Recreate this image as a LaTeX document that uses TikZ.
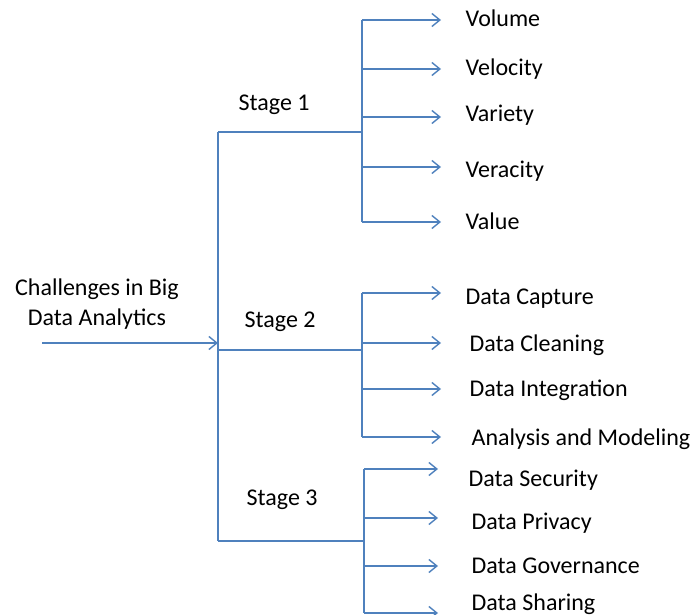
\documentclass[tikz,border=0pt]{standalone}
\usepackage{fontspec}
\setmainfont{Carlito}
\usepackage{tikz}
\usetikzlibrary{arrows.meta}
\definecolor{linkblue}{RGB}{79,129,189}

\begin{document}
\begin{tikzpicture}[x=0.5pt,y=-0.5pt,draw=linkblue,line width=0.7pt,font=\fontsize{12}{15}\selectfont]
	\tikzstyle{every node}=[text=black,inner sep=0pt,anchor=base west]
	\tikzstyle{tip}=[-{Straight Barb[length=4pt,width=6.5pt,line width=0.7pt]}]
	\useasboundingbox (0,0) rectangle (697,615);

	% root, trunk and stage branches
	\node (root)[align=center,anchor=center] at (97,304) {Challenges in Big\\Data Analytics};
	\coordinate (start) at (42,343);
	\coordinate (hub) at (218,343);
	\coordinate (S1) at (218,132);	\coordinate (S1R) at (362,132);
	\coordinate (S2) at (218,350);	\coordinate (S2R) at (362,350);
	\coordinate (S3) at (218,541);	\coordinate (S3R) at (364,541);
	\node (stage1) at (238,111) {Stage 1};
	\node (stage2) at (244,328) {Stage 2};
	\node (stage3) at (246,505) {Stage 3};

	% stage 1 leaves
	\node (vol) at (465,27) {Volume};
	\node (vel) at (465,76) {Velocity};
	\node (var) at (465,122) {Variety};
	\node (ver) at (465,178) {Veracity};
	\node (val) at (465,229) {Value};
	\coordinate (J1_1) at (362,20);		\coordinate (T1_1) at (441,20);
	\coordinate (J1_2) at (362,69);		\coordinate (T1_2) at (441,69);
	\coordinate (J1_3) at (362,117);	\coordinate (T1_3) at (441,117);
	\coordinate (J1_4) at (362,167);	\coordinate (T1_4) at (441,167);
	\coordinate (J1_5) at (362,222);	\coordinate (T1_5) at (441,222);

	% stage 2 leaves
	\node (cap) at (465,304) {Data Capture};
	\node (cln) at (469,351) {Data Cleaning};
	\node (int) at (469,396) {Data Integration};
	\node (mod) at (471,445) {Analysis and Modeling};
	\coordinate (J2_1) at (362,293);	\coordinate (T2_1) at (441,293);
	\coordinate (J2_2) at (362,343);	\coordinate (T2_2) at (441,343);
	\coordinate (J2_3) at (362,389);	\coordinate (T2_3) at (441,389);
	\coordinate (J2_4) at (362,437);	\coordinate (T2_4) at (441,437);

	% stage 3 leaves
	\node (sec) at (468,486) {Data Security};
	\node (prv) at (471,529) {Data  Privacy};
	\node (gov) at (471,573) {Data  Governance};
	\node (shr) at (471,610) {Data  Sharing};
	\coordinate (J3_1) at (364,469);	\coordinate (T3_1) at (438,469);
	\coordinate (J3_2) at (364,518);	\coordinate (T3_2) at (438,518);
	\coordinate (J3_3) at (364,566);	\coordinate (T3_3) at (438,566);
	\coordinate (J3_4) at (364,613);	\coordinate (T3_4) at (438,613);

	\draw[tip] (start) -- (hub);
	\draw (S1) -- (S3);
	\draw (S1) -- (S1R);
	\draw (S2) -- (S2R);
	\draw (S3) -- (S3R);

	\draw (J1_1) -- (J1_5);
	\draw[tip] (J1_1) -- (T1_1);
	\draw[tip] (J1_2) -- (T1_2);
	\draw[tip] (J1_3) -- (T1_3);
	\draw[tip] (J1_4) -- (T1_4);
	\draw[tip] (J1_5) -- (T1_5);

	\draw (J2_1) -- (J2_4);
	\draw[tip] (J2_1) -- (T2_1);
	\draw[tip] (J2_2) -- (T2_2);
	\draw[tip] (J2_3) -- (T2_3);
	\draw[tip] (J2_4) -- (T2_4);

	\draw (J3_1) -- (J3_4);
	\draw[tip] (J3_1) -- (T3_1);
	\draw[tip] (J3_2) -- (T3_2);
	\draw[tip] (J3_3) -- (T3_3);
	\draw[tip] (J3_4) -- (T3_4);
\end{tikzpicture}
\end{document}
